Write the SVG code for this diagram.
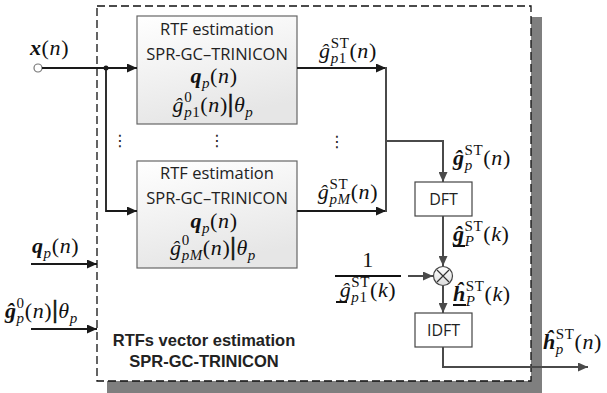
<svg xmlns="http://www.w3.org/2000/svg" width="607" height="393" viewBox="0 0 607 393">
<style>
.sans{font-family:"Open Sans","Liberation Sans",sans-serif;font-size:16.5px;fill:#222}
.bold{font-family:"Liberation Sans",Arial,sans-serif;font-size:16.5px;font-weight:bold;fill:#222}
.m{font-family:"Liberation Serif","DejaVu Serif",serif;font-size:22px;letter-spacing:0.6px;fill:#111}
.i{font-style:italic}
.b{font-weight:bold}
.s{font-size:15px}
.bar{font-size:25px;font-weight:bold;stroke:#111;stroke-width:0.5}
.dots{font-family:"DejaVu Sans",sans-serif;font-size:16px;fill:#222}
.ln{fill:none;stroke:#1a1a1a;stroke-width:1.8}
.lg{fill:none;stroke:#4a4a4a;stroke-width:2}
.box{fill:url(#gr);stroke:#666;stroke-width:1.2}
.wbox{fill:#fff;stroke:#444;stroke-width:1.2}
.ul{stroke:#111;stroke-width:2}
</style>
<defs>
<linearGradient id="gr" x1="0" y1="0" x2="0.3" y2="1">
<stop offset="0" stop-color="#ffffff"/>
<stop offset="1" stop-color="#e6e6e6"/>
</linearGradient>
<linearGradient id="cg" x1="0" y1="0" x2="0" y2="1">
<stop offset="0" stop-color="#ffffff"/>
<stop offset="1" stop-color="#dcdcdc"/>
</linearGradient>
<marker id="ad" markerUnits="userSpaceOnUse" markerWidth="10" markerHeight="9" refX="10" refY="4.5" orient="auto">
<path d="M0,0 L10,4.5 L0,9 z" fill="#1a1a1a"/>
</marker>
<marker id="ag" markerUnits="userSpaceOnUse" markerWidth="10" markerHeight="9" refX="10" refY="4.5" orient="auto">
<path d="M0,0 L10,4.5 L0,9 z" fill="#4a4a4a"/>
</marker>
</defs>
<rect x="0" y="0" width="607" height="393" fill="#fff"/>

<g id="frame">
<rect x="107" y="17" width="435" height="380" fill="#7f7f7f"/>
<rect x="97" y="6" width="434" height="375" fill="#fff" stroke="#111" stroke-width="1.3" stroke-dasharray="8 4"/>
<text class="bold" x="204" y="346" text-anchor="middle">RTFs vector estimation</text>
<text class="bold" x="204" y="367" text-anchor="middle">SPR-GC-TRINICON</text>
</g>

<g id="input-x">
<circle cx="38" cy="68" r="4" fill="#fff" stroke="#777" stroke-width="1.2"/>
<text class="m" x="30" y="55"><tspan class="b i">x</tspan>(<tspan class="i">n</tspan>)</text>
</g>

<g id="input-q">
<text class="m" x="32" y="253"><tspan class="b i">q</tspan><tspan class="s i" dy="5">p</tspan><tspan dy="-5">(</tspan><tspan class="i">n</tspan>)</text>
</g>

<g id="input-g0">
<text class="m" x="5" y="318"><tspan class="b i">ĝ</tspan><tspan class="s" dy="-10">0</tspan><tspan class="s i" dx="-8.1" dy="15">p</tspan><tspan dy="-5">(</tspan><tspan class="i">n</tspan>)<tspan class="bar">|</tspan><tspan class="i">θ</tspan><tspan class="s i" dy="5">p</tspan></text>
</g>

<g id="rtf1">
<rect class="box" x="137" y="16" width="160" height="108"/>
<text class="sans" x="217" y="35" text-anchor="middle">RTF estimation</text>
<text class="sans" x="217" y="60" text-anchor="middle">SPR-GC–TRINICON</text>
<text class="m" x="214" y="83" text-anchor="middle"><tspan class="b i">q</tspan><tspan class="s i" dy="5">p</tspan><tspan dy="-5">(</tspan><tspan class="i">n</tspan>)</text>
<text class="m" x="213" y="112" text-anchor="middle"><tspan class="i">ĝ</tspan><tspan class="s" dy="-10">0</tspan><tspan class="s i" dx="-8.1" dy="15">p</tspan><tspan class="s">1</tspan><tspan dy="-5">(</tspan><tspan class="i">n</tspan>)<tspan class="bar">|</tspan><tspan class="i">θ</tspan><tspan class="s i" dy="5">p</tspan></text>
</g>

<g id="rtfM">
<rect class="box" x="137" y="161" width="160" height="107"/>
<text class="sans" x="217" y="179" text-anchor="middle">RTF estimation</text>
<text class="sans" x="217" y="204" text-anchor="middle">SPR-GC–TRINICON</text>
<text class="m" x="214" y="228" text-anchor="middle"><tspan class="b i">q</tspan><tspan class="s i" dy="5">p</tspan><tspan dy="-5">(</tspan><tspan class="i">n</tspan>)</text>
<text class="m" x="213" y="255" text-anchor="middle"><tspan class="i">ĝ</tspan><tspan class="s" dy="-10">0</tspan><tspan class="s i" dx="-8.1" dy="15">pM</tspan><tspan dy="-5">(</tspan><tspan class="i">n</tspan>)<tspan class="bar">|</tspan><tspan class="i">θ</tspan><tspan class="s i" dy="5">p</tspan></text>
</g>

<g id="ellipsis">
<text class="dots" x="120" y="146" text-anchor="middle">⋮</text>
<text class="dots" x="217" y="146" text-anchor="middle">⋮</text>
<text class="dots" x="337" y="147" text-anchor="middle">⋮</text>
</g>

<g id="out-labels">
<text class="m" x="348" y="58" text-anchor="middle"><tspan class="i">ĝ</tspan><tspan class="s" dy="-10">ST</tspan><tspan class="s i" dx="-18.7" dy="15">p</tspan><tspan class="s">1</tspan><tspan dx="2.5" dy="-5">(</tspan><tspan class="i">n</tspan>)</text>
<text class="m" x="348" y="199" text-anchor="middle"><tspan class="i">ĝ</tspan><tspan class="s" dy="-10">ST</tspan><tspan class="s i" dx="-18.7" dy="15">pM</tspan><tspan dy="-5">(</tspan><tspan class="i">n</tspan>)</text>
</g>

<g id="dft">
<rect class="wbox" x="415" y="182" width="57" height="34"/>
<text class="sans" x="443.5" y="205" text-anchor="middle" style="font-size:16px">DFT</text>
<text class="m" x="453" y="165"><tspan class="b i">ĝ</tspan><tspan class="s" dy="-10">ST</tspan><tspan class="s i" dx="-18.7" dy="15">p</tspan><tspan dx="10.6" dy="-5">(</tspan><tspan class="i">n</tspan>)</text>
</g>

<g id="multiply">
<circle cx="443" cy="276" r="9.5" fill="url(#cg)" stroke="#444" stroke-width="1.2"/>
<path d="M437,270 L449,282 M449,270 L437,282" stroke="#333" stroke-width="1.2"/>
<text class="m" x="453" y="241"><tspan class="b i">ĝ</tspan><tspan class="s" dy="-10">ST</tspan><tspan class="s i" dx="-18.7" dy="15">P</tspan><tspan dx="8.9" dy="-5">(</tspan><tspan class="i">k</tspan>)</text>
<line class="ul" x1="453" y1="246" x2="465" y2="246"/>
<text class="m" x="368" y="267" text-anchor="middle">1</text>
<line x1="335" y1="276" x2="401" y2="276" stroke="#111" stroke-width="2"/>
<text class="m" x="368" y="297" text-anchor="middle"><tspan class="i">ĝ</tspan><tspan class="s" dy="-10">ST</tspan><tspan class="s i" dx="-18.7" dy="15">p</tspan><tspan class="s">1</tspan><tspan dx="2.5" dy="-5">(</tspan><tspan class="i">k</tspan>)</text>
<line class="ul" x1="336" y1="302" x2="347" y2="302"/>
<text class="m" x="453" y="301"><tspan class="b i">ĥ</tspan><tspan class="s" dy="-10">ST</tspan><tspan class="s i" dx="-18.7" dy="15">P</tspan><tspan dx="8.9" dy="-5">(</tspan><tspan class="i">k</tspan>)</text>
<line class="ul" x1="453" y1="305" x2="466" y2="305"/>
</g>

<g id="idft">
<rect class="wbox" x="415" y="313" width="57" height="34"/>
<text class="sans" x="443.5" y="336" text-anchor="middle" style="font-size:16px">IDFT</text>
<text class="m" x="543" y="349"><tspan class="b i">ĥ</tspan><tspan class="s" dy="-10">ST</tspan><tspan class="s i" dx="-18.7" dy="15">p</tspan><tspan dx="10.6" dy="-5">(</tspan><tspan class="i">n</tspan>)</text>
</g>

<g id="connectors">
<path class="ln" d="M42,68 H137" marker-end="url(#ad)"/>
<path class="ln" d="M106,68 V211 H137" marker-end="url(#ad)"/>
<circle cx="106" cy="68" r="2.5" fill="#1a1a1a"/>
<path class="ln" d="M31,264 H97" marker-end="url(#ad)"/>
<path class="ln" d="M31,329 H97" marker-end="url(#ad)"/>
<path class="ln" d="M297,68 H386" stroke-width="1.4" marker-end="url(#ad)"/>
<path class="ln" d="M297,211 H386" stroke-width="1.4" marker-end="url(#ad)"/>
<path class="lg" d="M386,67 V212"/>
<path class="lg" d="M386,141 H443 V182" marker-end="url(#ag)"/>
<path class="lg" d="M443,216 V266" marker-end="url(#ag)"/>
<path class="lg" d="M408,276 H433" marker-end="url(#ag)"/>
<path class="lg" d="M443,286 V313" marker-end="url(#ag)"/>
<path class="lg" d="M443,347 V367 H588" marker-end="url(#ag)"/>
</g>
</svg>
